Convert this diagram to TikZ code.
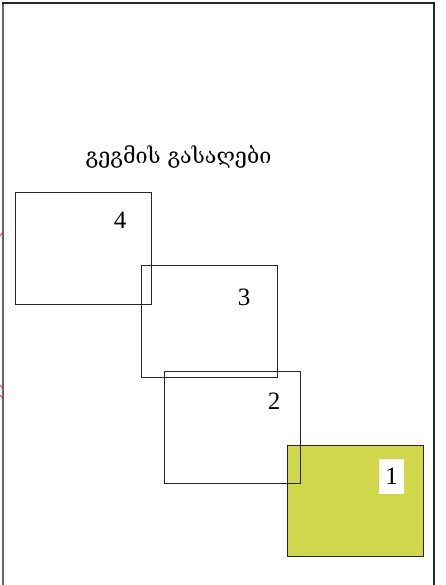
\documentclass[tikz,border=0pt]{standalone}
\usepackage{fontspec}
\newfontfamily\geofont{DejaVu Serif}
\newfontfamily\numfont{Liberation Serif}
\definecolor{olive1}{RGB}{209,215,74}
\begin{document}
\begin{tikzpicture}[x=1pt,y=-1pt,
  box/.style={draw=black!85,line width=0.9pt},
  num/.style={font=\numfont\fontsize{25}{28}\selectfont,inner sep=2pt}]
\useasboundingbox (0,0) rectangle (445,585);
% frame
\draw[gray!80!black,line width=1.5pt] (3,585) -- (3,3);
\draw[black!85,line width=2pt] (2,3) -- (434,3) -- (434,585);
% red marks
\draw[red,line width=0.6pt] (0,236) -- (2.5,232.5);
\draw[red,line width=0.6pt] (0,385) -- (2.5,388);
\draw[red,line width=0.6pt] (0,395) -- (2.5,398);
% boxes
\node[box,fill=olive1,minimum width=136pt,minimum height=111pt,anchor=north west,inner sep=0pt] (b1) at (287,445) {};
\node[box,minimum width=136pt,minimum height=112pt,anchor=north west,inner sep=0pt] (b2) at (164,371) {};
\node[box,minimum width=136pt,minimum height=112pt,anchor=north west,inner sep=0pt] (b3) at (141,265) {};
\node[box,minimum width=136pt,minimum height=112pt,anchor=north west,inner sep=0pt] (b4) at (15,192) {};
% labels
\node[num,fill=white,minimum width=25pt,minimum height=35pt,inner sep=0pt] (l1) at (391.5,476) {1};
\node[num] (l2) at (274,401) {2};
\node[num] (l3) at (244,297) {3};
\node[num] (l4) at (120,220) {4};
% title
\node[font=\geofont\fontsize{21.5}{25}\selectfont] (title) at (178.5,157) {გეგმის გასაღები};
\end{tikzpicture}
\end{document}
